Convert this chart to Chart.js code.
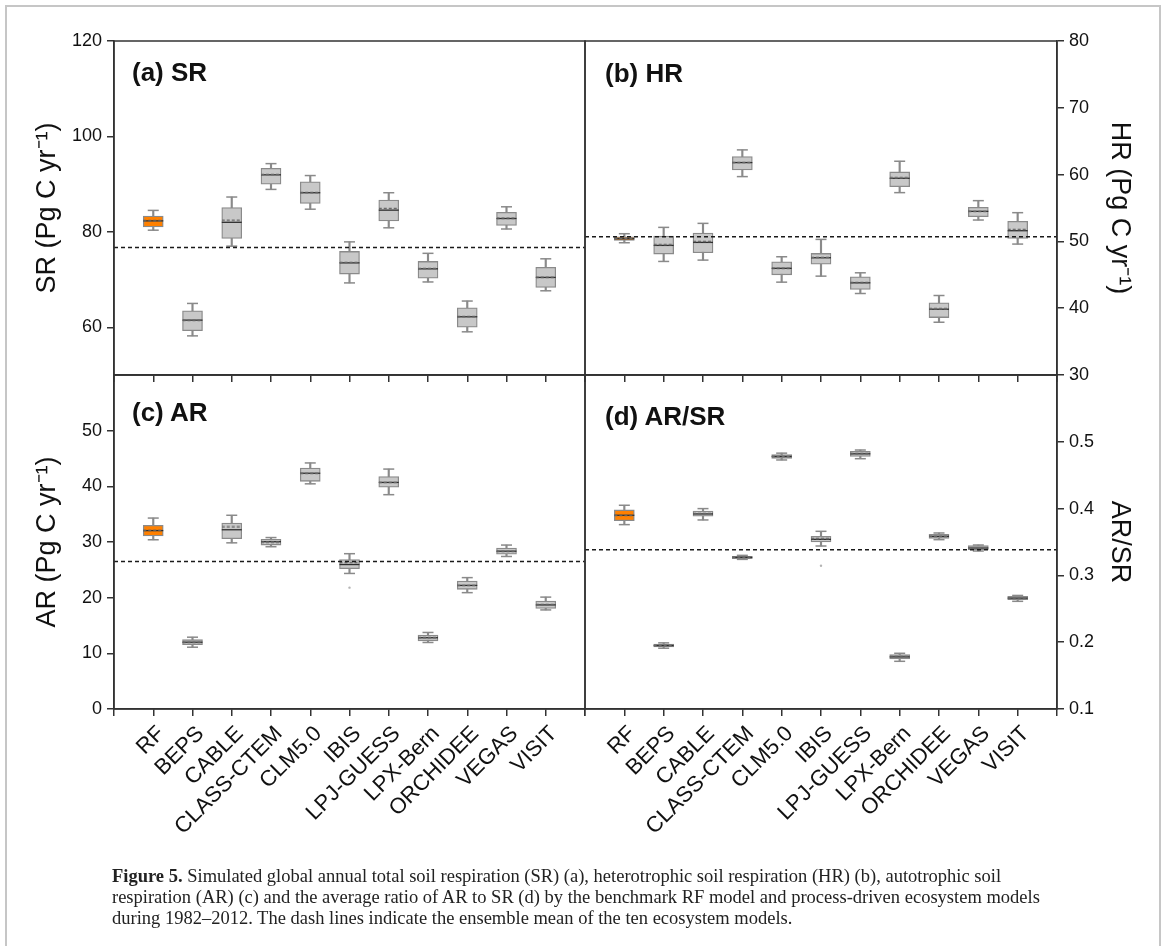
<!DOCTYPE html>
<html><head><meta charset="utf-8">
<script src="https://cdn.jsdelivr.net/npm/chart.js@4.4.0/dist/chart.umd.min.js"></script>
<style>
html,body{margin:0;padding:0;background:#fff;}
#wrap{position:relative;width:1165px;height:946px;overflow:hidden;background:#fff;}
#frame{position:absolute;left:5px;top:5px;width:1156px;height:980px;border:2px solid #c6c6c6;box-sizing:border-box;}
canvas{position:absolute;left:0;top:0;}
.ptitle{position:absolute;font-family:'Liberation Sans',Arial,sans-serif;font-weight:bold;font-size:26px;line-height:26px;color:#111;white-space:nowrap;}
#caption{position:absolute;left:112px;top:866px;font-family:'Liberation Serif','Times New Roman',serif;font-size:18.5px;line-height:21px;color:#222;white-space:nowrap;}
</style></head>
<body><div id="wrap">
<div id="frame"></div>
<canvas id="cA" width="1165" height="946"></canvas>
<canvas id="cB" width="1165" height="946"></canvas>
<canvas id="cC" width="1165" height="946"></canvas>
<canvas id="cD" width="1165" height="946"></canvas>
<div class="ptitle" style="left:132px;top:59px">(a) SR</div>
<div class="ptitle" style="left:605px;top:60px">(b) HR</div>
<div class="ptitle" style="left:132px;top:399px">(c) AR</div>
<div class="ptitle" style="left:605px;top:403px">(d) AR/SR</div>
<div id="caption"><b>Figure 5.</b> Simulated global annual total soil respiration (SR) (a), heterotrophic soil respiration (HR) (b), autotrophic soil<br>respiration (AR) (c) and the average ratio of AR to SR (d) by the benchmark RF model and process-driven ecosystem models<br>during 1982–2012. The dash lines indicate the ensemble mean of the ten ecosystem models.</div>
</div>
<script>
const categories = ['RF','BEPS','CABLE','CLASS-CTEM','CLM5.0','IBIS','LPJ-GUESS','LPX-Bern','ORCHIDEE','VEGAS','VISIT'];
const xTickPositions = [0,1,2,3,4,5,6,7,8,9,10,11,12];

// (a) SR
const srMin  = [80.35, 58.2, 77.0, 88.9, 84.75, 69.3, 80.85, 69.5, 59.05, 80.6, 67.65];
const srQ1   = [81.05, 59.3, 78.6, 90.0, 85.95, 71.15, 82.3, 70.3, 60.0, 81.35, 68.35];
const srMed  = [82.3, 61.5, 82.0, 91.95, 88.2, 73.5, 84.55, 72.25, 62.2, 82.8, 70.45];
const srQ3   = [83.3, 63.45, 85.1, 93.3, 90.5, 75.9, 86.65, 73.8, 64.1, 84.1, 72.55];
const srMax  = [84.5, 65.0, 87.3, 94.3, 91.8, 77.9, 88.2, 75.5, 65.5, 85.25, 74.35];
const srMean = [82.3, 61.5, 82.45, 92.0, 88.2, 73.6, 84.9, 72.3, 62.2, 82.9, 70.5];
const srEnsemble = 76.7;
const srOutliers = [];
const srTicks = [60, 80, 100, 120];

// (b) HR
const hrMin  = [49.8, 47.0, 47.2, 59.7, 43.9, 44.8, 42.2, 57.3, 37.9, 53.2, 49.6];
const hrQ1   = [50.15, 48.1, 48.3, 60.7, 45.0, 46.6, 42.8, 58.2, 38.6, 53.7, 50.45];
const hrMed  = [50.4, 49.4, 49.85, 61.8, 45.97, 47.55, 43.8, 59.45, 39.85, 54.5, 51.6];
const hrQ3   = [50.7, 50.8, 51.25, 62.7, 46.96, 48.2, 44.7, 60.4, 40.8, 55.1, 53.0];
const hrMax  = [51.15, 52.1, 52.7, 63.7, 47.7, 50.3, 45.3, 62.0, 41.9, 56.1, 54.3];
const hrMean = [50.45, 49.5, 50.0, 61.8, 46.0, 47.6, 43.8, 59.5, 39.9, 54.5, 51.8];
const hrEnsemble = 50.7;
const hrOutliers = [];
const hrTicks = [30, 40, 50, 60, 70, 80];

// (c) AR
const arMin  = [30.4, 11.1, 29.85, 29.15, 40.45, 24.35, 38.5, 11.95, 20.9, 27.4, 17.8];
const arQ1   = [31.1, 11.55, 30.6, 29.45, 40.9, 25.2, 39.85, 12.25, 21.5, 27.8, 18.05];
const arMed  = [32.05, 12.0, 32.2, 30.05, 42.35, 25.95, 40.7, 12.8, 22.2, 28.35, 18.7];
const arQ3   = [33.0, 12.45, 33.4, 30.5, 43.3, 26.85, 41.75, 13.3, 23.0, 28.9, 19.4];
const arMax  = [34.3, 12.9, 34.8, 30.8, 44.2, 27.9, 43.1, 13.75, 23.6, 29.45, 20.1];
const arMean = [32.1, 12.0, 32.7, 30.0, 42.35, 26.3, 40.7, 12.8, 22.2, 28.35, 18.7];
const arEnsemble = 26.5;
const arOutliers = [{cat: 'IBIS', value: 21.8}];
const arTicks = [0, 10, 20, 30, 40, 50];

// (d) AR/SR
const ratioMin  = [0.376, 0.191, 0.383, 0.324, 0.4728, 0.344, 0.4747, 0.1714, 0.3535, 0.3365, 0.2612];
const ratioQ1   = [0.382, 0.193, 0.3885, 0.325, 0.4753, 0.350, 0.478, 0.1749, 0.3555, 0.3385, 0.2636];
const ratioMed  = [0.390, 0.195, 0.392, 0.327, 0.478, 0.354, 0.482, 0.178, 0.3585, 0.341, 0.266];
const ratioQ3   = [0.398, 0.197, 0.3964, 0.3286, 0.4807, 0.3585, 0.4858, 0.1813, 0.3615, 0.3445, 0.2687];
const ratioMax  = [0.405, 0.199, 0.400, 0.330, 0.483, 0.366, 0.4877, 0.1834, 0.3635, 0.3455, 0.270];
const ratioMean = [0.390, 0.195, 0.392, 0.327, 0.478, 0.355, 0.482, 0.178, 0.3585, 0.341, 0.266];
const ratioEnsemble = 0.3385;
const ratioOutliers = [{cat: 'IBIS', value: 0.3145}];
const ratioTicks = [0.1, 0.2, 0.3, 0.4, 0.5];

Chart.defaults.font.family = "'Liberation Sans', Arial, sans-serif";
Chart.defaults.color = '#111';

// dashed image used as the point style for the mean markers
const meanImg = document.createElement('canvas');
meanImg.width = 20; meanImg.height = 3;
(function(){
  const m = meanImg.getContext('2d');
  m.strokeStyle = '#6a6a6a'; m.lineWidth = 1.3; m.setLineDash([3, 2]);
  m.beginPath(); m.moveTo(0, 1.5); m.lineTo(20, 1.5); m.stroke();
})();

const framePlugin = {
  id: 'panelFrame',
  afterDraw(chart) {
    const {ctx, chartArea: a} = chart;
    ctx.save();
    ctx.strokeStyle = '#333'; ctx.lineWidth = 1.5;
    ctx.strokeRect(a.left, a.top, a.right - a.left, a.bottom - a.top);
    ctx.restore();
  }
};

function boxDatasets(mins, q1, med, q3, maxs, means, ensemble, outliers) {
  const pos = categories.map((c, i) => i + 1);
  const fills = categories.map(c => c === 'RF' ? '#ff8000' : '#c8c8c8');
  return [
    {type: 'line', data: [{x: 0, y: ensemble}, {x: 12, y: ensemble}], borderColor: '#1a1a1a', borderWidth: 1.5,
     borderDash: [4, 3], pointRadius: 0, order: 0},
    {type: 'scatter', data: pos.map((x, i) => ({x, y: means[i]})), pointStyle: meanImg, pointRadius: 10, order: 1},
    {type: 'scatter', data: pos.map((x, i) => ({x, y: med[i]})), pointStyle: 'line', pointRadius: 10,
     borderColor: '#2e2e2e', pointBorderColor: '#2e2e2e', pointBorderWidth: 1.3, borderWidth: 1.3, order: 2},
    {type: 'scatter', data: pos.map((x, i) => ({x, y: mins[i]})), pointStyle: 'line', pointRadius: 5.5,
     borderColor: '#8a8a8a', pointBorderColor: '#8a8a8a', pointBorderWidth: 1.5, borderWidth: 1.5, order: 3},
    {type: 'scatter', data: pos.map((x, i) => ({x, y: maxs[i]})), pointStyle: 'line', pointRadius: 5.5,
     borderColor: '#8a8a8a', pointBorderColor: '#8a8a8a', pointBorderWidth: 1.5, borderWidth: 1.5, order: 3},
    {type: 'scatter', data: outliers.map(o => ({x: categories.indexOf(o.cat) + 1, y: o.value})), pointStyle: 'circle',
     pointRadius: 1.2, backgroundColor: '#b4b4b4', pointBackgroundColor: '#b4b4b4', borderWidth: 0, pointBorderWidth: 0, order: 3},
    {type: 'bar', data: pos.map((x, i) => ({x, y: [q1[i], q3[i]]})), backgroundColor: fills, borderColor: '#8a8a8a',
     borderWidth: 1.3, borderSkipped: false, barThickness: 20, grouped: false, order: 4},
    {type: 'bar', data: pos.map((x, i) => ({x, y: [mins[i], maxs[i]]})), backgroundColor: '#8a8a8a',
     borderWidth: 0, barThickness: 1.5, grouped: false, order: 5}
  ];
}

function makePanel(id, o) {
  new Chart(document.getElementById(id), {
    type: 'bar',
    data: {datasets: boxDatasets(o.mins, o.q1, o.med, o.q3, o.maxs, o.means, o.ensemble, o.outliers)},
    options: {
      responsive: false, maintainAspectRatio: false, animation: false, devicePixelRatio: 1, events: [],
      layout: {padding: o.padding},
      plugins: {legend: {display: false}, tooltip: {enabled: false}},
      scales: {
        x: {
          type: 'linear', position: 'bottom', min: 0, max: 12, offset: false,
          afterBuildTicks: s => { s.ticks = xTickPositions.map(v => ({value: v})); },
          afterFit: s => { s.height = o.xHeight; },
          ticks: {display: o.showLabels, autoSkip: false, minRotation: 45, maxRotation: 45, padding: 5, labelOffset: 8,
                  font: {size: 22}, color: '#111', callback: v => categories[v - 1] || ''},
          grid: {display: true, drawOnChartArea: false, drawTicks: true, tickLength: 7, color: '#333', lineWidth: 1.5, offset: false},
          border: {display: true, color: '#333', width: 1.5}
        },
        y: {
          type: 'linear', position: o.side, min: o.min, max: o.max,
          afterBuildTicks: s => { s.ticks = o.ticks.map(v => ({value: v})); },
          afterFit: s => { s.width = o.yWidth; },
          ticks: {font: {size: 18}, color: '#111', padding: 5, callback: v => o.fmt(v)},
          grid: {display: true, drawOnChartArea: false, drawTicks: true, tickLength: 7, color: '#333', lineWidth: 1.5},
          border: {display: true, color: '#333', width: 1.5},
          title: {display: true, text: o.title, font: {size: 27}, color: '#111', padding: 0}
        }
      }
    },
    plugins: [framePlugin]
  });
}

const intFmt = v => String(v);
makePanel('cA', {side: 'left', mins: srMin, q1: srQ1, med: srMed, q3: srQ3, maxs: srMax, means: srMean,
  ensemble: srEnsemble, outliers: srOutliers, min: 50, max: 120, ticks: srTicks, fmt: intFmt,
  title: 'SR (Pg C yr⁻¹)', yWidth: 82.2, xHeight: 10, showLabels: false,
  padding: {left: 31.8, top: 41, right: 580, bottom: 561}});
makePanel('cB', {side: 'right', mins: hrMin, q1: hrQ1, med: hrMed, q3: hrQ3, maxs: hrMax, means: hrMean,
  ensemble: hrEnsemble, outliers: hrOutliers, min: 30, max: 80, ticks: hrTicks, fmt: intFmt,
  title: 'HR (Pg C yr⁻¹)', yWidth: 78.2, xHeight: 10, showLabels: false,
  padding: {left: 585, top: 41, right: 29.8, bottom: 561}});
makePanel('cC', {side: 'left', mins: arMin, q1: arQ1, med: arMed, q3: arQ3, maxs: arMax, means: arMean,
  ensemble: arEnsemble, outliers: arOutliers, min: 0, max: 60, ticks: arTicks, fmt: intFmt,
  title: 'AR (Pg C yr⁻¹)', yWidth: 82.2, xHeight: 130, showLabels: true,
  padding: {left: 31.8, top: 375, right: 580, bottom: 107}});
makePanel('cD', {side: 'right', mins: ratioMin, q1: ratioQ1, med: ratioMed, q3: ratioQ3, maxs: ratioMax, means: ratioMean,
  ensemble: ratioEnsemble, outliers: ratioOutliers, min: 0.1, max: 0.6, ticks: ratioTicks, fmt: v => v.toFixed(1),
  title: 'AR/SR', yWidth: 78.2, xHeight: 130, showLabels: true,
  padding: {left: 585, top: 375, right: 29.8, bottom: 107}});
</script>
</body></html>
